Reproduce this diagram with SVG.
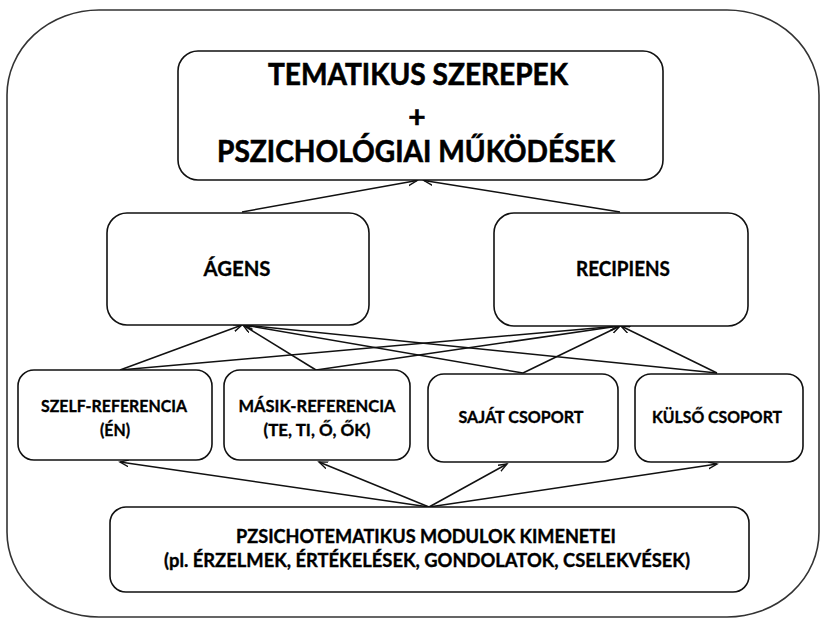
<svg xmlns="http://www.w3.org/2000/svg" width="820" height="618" viewBox="0 0 820 618">
<defs>
<style>
.box{fill:#fff;stroke:#111;stroke-width:1.6}
.outer{fill:#fff;stroke:#333;stroke-width:1.6}
.t{font-family:Lato,"Liberation Sans",sans-serif;font-weight:bold;fill:#000;stroke:#000;stroke-width:0.35;text-anchor:middle}
.big{font-size:30px;stroke-width:0.6}
.mid{font-size:21px}
.sm{font-size:17.5px}
.bt{font-size:18px}
.c{stroke:#111;stroke-width:1.5;fill:none;marker-end:url(#ah)}
</style>
<marker id="ah" markerUnits="userSpaceOnUse" markerWidth="12" markerHeight="10" refX="9" refY="4" orient="auto">
<path d="M0,0.5 L9,4 L0,7.5" fill="none" stroke="#111" stroke-width="1.4"/>
</marker>
</defs>
<rect class="outer" x="7" y="10" width="812" height="607" rx="92" ry="85"/>
<g id="connectors">
<line class="c" x1="242" y1="212" x2="417" y2="180.5"/>
<line class="c" x1="620" y1="212" x2="424" y2="180.5"/>
<line class="c" x1="120" y1="370" x2="242" y2="325"/>
<line class="c" x1="120" y1="370" x2="619" y2="326"/>
<line class="c" x1="316" y1="370" x2="243" y2="325"/>
<line class="c" x1="316" y1="370" x2="619" y2="326"/>
<line class="c" x1="523" y1="373" x2="244" y2="325"/>
<line class="c" x1="523" y1="373" x2="620" y2="326"/>
<line class="c" x1="717" y1="373" x2="244" y2="325"/>
<line class="c" x1="717" y1="373" x2="621" y2="326"/>
<line class="c" x1="429" y1="507" x2="120" y2="462"/>
<line class="c" x1="429" y1="507" x2="319" y2="462"/>
<line class="c" x1="429" y1="507" x2="507" y2="464"/>
<line class="c" x1="429" y1="507" x2="717" y2="464"/>
</g>
<g id="top">
<rect class="box" x="178" y="51" width="485" height="129" rx="20"/>
<text class="t big" x="418" y="85" textLength="300" lengthAdjust="spacingAndGlyphs">TEMATIKUS SZEREPEK</text>
<text class="t big" x="417" y="128">+</text>
<text class="t big" x="416" y="162" textLength="398" lengthAdjust="spacingAndGlyphs">PSZICHOLÓGIAI MŰKÖDÉSEK</text>
</g>
<g id="agens">
<rect class="box" x="107" y="213" width="262" height="112" rx="20"/>
<text class="t mid" x="237" y="276" textLength="67" lengthAdjust="spacingAndGlyphs">ÁGENS</text>
</g>
<g id="recipiens">
<rect class="box" x="494" y="213" width="254" height="113" rx="20"/>
<text class="t mid" x="623" y="276" textLength="94" lengthAdjust="spacingAndGlyphs">RECIPIENS</text>
</g>
<g id="szelf">
<rect class="box" x="18" y="370" width="194" height="90" rx="16"/>
<text class="t sm" x="114" y="412" textLength="146" lengthAdjust="spacingAndGlyphs">SZELF-REFERENCIA</text>
<text class="t sm" x="115" y="436" textLength="30" lengthAdjust="spacingAndGlyphs">(ÉN)</text>
</g>
<g id="masik">
<rect class="box" x="224" y="370" width="186" height="90" rx="16"/>
<text class="t sm" x="317" y="412" textLength="157" lengthAdjust="spacingAndGlyphs">MÁSIK-REFERENCIA</text>
<text class="t sm" x="317" y="436" textLength="107" lengthAdjust="spacingAndGlyphs">(TE, TI, Ő, ŐK)</text>
</g>
<g id="sajat">
<rect class="box" x="428" y="374" width="190" height="88" rx="16"/>
<text class="t sm" x="521" y="423" textLength="125" lengthAdjust="spacingAndGlyphs">SAJÁT CSOPORT</text>
</g>
<g id="kulso">
<rect class="box" x="635" y="374" width="168" height="88" rx="16"/>
<text class="t sm" x="717" y="423" textLength="130" lengthAdjust="spacingAndGlyphs">KÜLSŐ CSOPORT</text>
</g>
<g id="modulok">
<rect class="box" x="110" y="507" width="639" height="85" rx="16"/>
<text class="t bt" x="426" y="543" textLength="380" lengthAdjust="spacingAndGlyphs">PZSICHOTEMATIKUS MODULOK KIMENETEI</text>
<text class="t bt" x="427" y="567" textLength="526" lengthAdjust="spacingAndGlyphs">(pl. ÉRZELMEK, ÉRTÉKELÉSEK, GONDOLATOK, CSELEKVÉSEK)</text>
</g>
</svg>
